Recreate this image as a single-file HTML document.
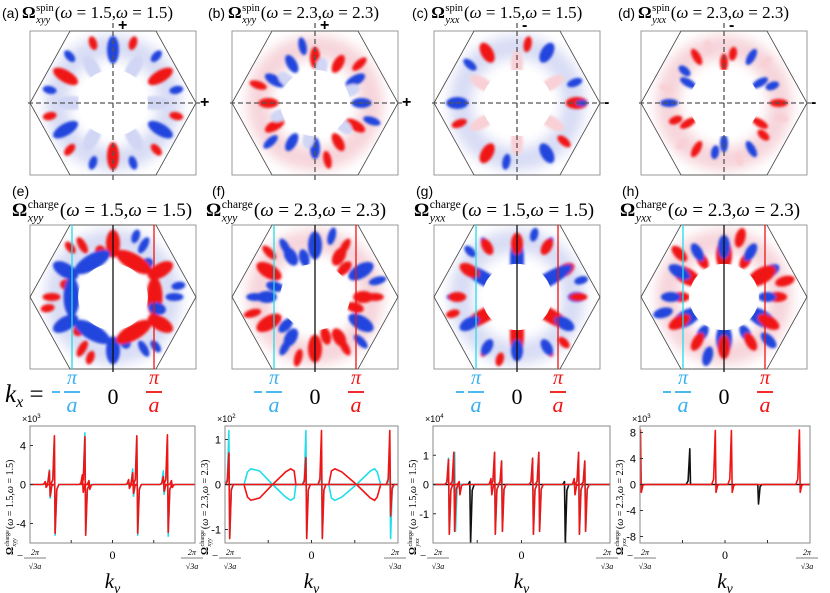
<!DOCTYPE html>
<html><head><meta charset="utf-8"><style>
body{margin:0;background:#fff;}
svg{display:block;font-family:"Liberation Serif",serif;}
</style></head><body>
<svg id="fig" width="830" height="593" viewBox="0 0 830 593" xmlns="http://www.w3.org/2000/svg">
<defs>
<filter id="blur" x="-20%" y="-20%" width="140%" height="140%"><feGaussianBlur stdDeviation="1.4"/></filter>
<filter id="blur2" x="-30%" y="-30%" width="160%" height="160%"><feGaussianBlur stdDeviation="6"/></filter>
</defs>
<g id="heat"></g>
<g id="texts">
<text x="12" y="196" font-size="14" font-family="Liberation Sans">(e)</text>
<text x="212" y="196" font-size="14" font-family="Liberation Sans">(f)</text>
<text x="416" y="196" font-size="14" font-family="Liberation Sans">(g)</text>
<text x="622" y="196" font-size="14" font-family="Liberation Sans">(h)</text>
<text x="5" y="402" font-size="25" font-style="italic">k<tspan font-size="16" dy="5">x</tspan><tspan font-style="normal" dy="-5"> =</tspan></text>
</g>
<g id="titles"></g>
<g id="kx"></g>
<g id="charts"></g>
</svg>
<script>
const NS="http://www.w3.org/2000/svg";
function mk(tag,attrs,parent){const e=document.createElementNS(NS,tag);for(const k in attrs)e.setAttribute(k,attrs[k]);parent.appendChild(e);return e;}
const RED="#f01414",BLUE="#2244dd",CYAN="#22dde8";

// rich label: prefix, bold Omega, sup, sub, rest
function rich(parent,x,y,size,prefix,sup,sub,rest,name){
  const g=mk('g',{},parent);
  
  
  let cx=x;
  if(prefix){const p=mk('text',{x:cx,y:y,'font-size':size*0.82,'font-family':'Liberation Sans'},g);p.textContent=prefix;cx+=p.getComputedTextLength()+3;}
  const o=mk('text',{x:cx,y:y,'font-size':size,'font-weight':'bold'},g);o.textContent='Ω';cx+=o.getComputedTextLength()+0.5;
  const s1=mk('text',{x:cx,y:y-size*0.42,'font-size':size*0.62},g);s1.textContent=sup;
  const s2=mk('text',{x:cx,y:y+size*0.28,'font-size':size*0.62,'font-style':'italic'},g);s2.textContent=sub;
  cx+=Math.max(s1.getComputedTextLength(),s2.getComputedTextLength())+1;
  const r=mk('text',{x:cx,y:y,'font-size':size},g);r.innerHTML=rest;
  return g;
}
const tg=document.getElementById('titles');
const W1='(<tspan font-style="italic">ω</tspan> = 1.5,<tspan font-style="italic">ω</tspan> = 1.5)';
const W2='(<tspan font-style="italic">ω</tspan> = 2.3,<tspan font-style="italic">ω</tspan> = 2.3)';
rich(tg,2,18,17,'(a)','spin','xyy',W1,'title-a');
rich(tg,208,18,17,'(b)','spin','xyy',W2,'title-b');
rich(tg,412,18,17,'(c)','spin','yxx',W1,'title-c');
rich(tg,618,18,17,'(d)','spin','yxx',W2,'title-d');
rich(tg,12,216,19,'','charge','xyy',W1,'title-e');
rich(tg,206,216,19,'','charge','xyy',W2,'title-f');
rich(tg,414,216,19,'','charge','yxx',W1,'title-g');
rich(tg,620,216,19,'','charge','yxx',W2,'title-h');

/* ---------- heatmap panels (approximate textures) ---------- */
const panelX=[30,232,434,641];
const panelY=[31,225];
const PW=166,PH=144;
const panelDefs=[
 {row:0,col:0,mode:"alt",blobs:[[30,0.66,14,6,1],[48,0.78,7,4,0],[12,0.78,7,4,0],[0,0.5,14,7,2]],sign:"+"},
 {row:0,col:1,mode:"alt",blobs:[[30,0.56,11,5,0],[42,0.72,9,4,1],[0,0.56,10,5,0],[20,0.45,10,6,2]],sign:"+"},
 {row:0,col:2,mode:"alt",blobs:[[0,0.72,11,6,1],[20,0.74,8,4,0],[30,0.48,14,6,3],[60,0.78,6,3,1]],sign:"-"},
 {row:0,col:3,mode:"alt",blobs:[[30,0.5,9,4,0],[0,0.66,9,4,1],[20,0.62,7,4,0],[45,0.72,7,4,3]],sign:"-"},
 {row:1,col:0,mode:"lr",blobs:[[0,0.5,8,20,0],[30,0.66,14,7,0],[60,0.74,9,4,1],[10,0.8,7,4,1],[45,0.55,9,6,1]]},
 {row:1,col:1,mode:"lr",blobs:[[30,0.64,14,7,1],[0,0.58,10,6,0],[45,0.5,9,5,0],[15,0.78,9,4,1],[60,0.72,9,4,0]]},
 {row:1,col:2,mode:"tb",blobs:[[90,0.45,26,7,0],[30,0.66,11,6,1],[60,0.74,9,4,0],[0,0.72,9,5,1],[15,0.8,7,4,0]]},
 {row:1,col:3,mode:"tb",blobs:[[90,0.52,16,8,1],[30,0.62,12,6,0],[60,0.52,9,5,1],[0,0.64,10,5,0],[15,0.76,10,5,1]]}
];
const heat=document.getElementById('heat');
panelDefs.forEach((p,i)=>{
  const x0=panelX[p.col],y0=panelY[p.row],cx=x0+PW/2,cy=y0+PH/2;
  const g=mk('g',{},heat);
  
  
  const cid='hex'+i;
  const cp=mk('clipPath',{id:cid},g);
  const hx=[[x0,cy],[x0+40,y0],[x0+PW-40,y0],[x0+PW,cy],[x0+PW-40,y0+PH],[x0+40,y0+PH]].map(q=>q.join(',')).join(' ');
  mk('polygon',{points:hx},cp);
  const inner=mk('g',{'clip-path':'url(#'+cid+')'},g);
  mk('rect',{x:x0,y:y0,width:PW,height:PH,fill:'#fff'},inner);
  mk('circle',{cx:cx,cy:cy,r:PW*0.34,fill:'none',stroke:i%2?'#f6d4da':'#d8dcf4','stroke-width':PW*0.14,filter:'url(#blur2)'},inner);
  const bl=mk('g',{filter:'url(#blur)'},inner);
  for(let k=0;k<6;k++){
    p.blobs.forEach(b=>{
      const ang=(60*k+b[0])*Math.PI/180;
      const r=b[1]*PW/2;
      const bx=cx+r*Math.cos(ang),by=cy-r*Math.sin(ang)*(PH/PW)*1.12;
      let c;
      if(p.mode==="alt") c=((k+b[4])%2===0);
      else if(p.mode==="lr") c=(Math.cos(ang)<0)!==(b[4]===1);
      else c=(Math.sin(ang)>0)!==(b[4]===1);
      if(b[4]>=2){c=b[4]===2;}
      const col=c?(b[4]>=2?'#d0d6f4':BLUE):(b[4]>=2?'#f8d0d5':RED);
      mk('ellipse',{cx:bx,cy:by,rx:b[2],ry:b[3],fill:col,transform:`rotate(${-60*k-b[0]} ${bx} ${by})`},bl);
    });
  }
  mk('ellipse',{cx:cx,cy:cy,rx:PW*0.21,ry:PH*0.23,fill:'#fff'},inner);
  mk('rect',{x:x0,y:y0,width:PW,height:PH,fill:'none',stroke:'#999','stroke-width':1},g);
  mk('polygon',{points:hx,fill:'none',stroke:'#444','stroke-width':0.8},g);
  if(p.row===0){
    mk('line',{x1:cx,y1:y0-8,x2:cx,y2:y0+PH+8,stroke:'#555','stroke-width':1.3,'stroke-dasharray':'5,3'},g);
    mk('line',{x1:x0-2,y1:cy,x2:x0+PW+4,y2:cy,stroke:'#555','stroke-width':1.3,'stroke-dasharray':'5,3'},g);
    const s1=mk('text',{x:cx+5,y:y0-1,'font-size':16,'font-weight':'bold','font-family':'Liberation Sans'},g);s1.textContent=p.sign;
    const s2=mk('text',{x:x0+PW+4,y:cy+4,'font-size':16,'font-weight':'bold','font-family':'Liberation Sans'},g);s2.textContent=p.sign;
  } else {
    mk('line',{x1:x0+42,y1:y0,x2:x0+42,y2:y0+PH,stroke:CYAN,'stroke-width':1.3},g);
    mk('line',{x1:cx,y1:y0,x2:cx,y2:y0+PH+3,stroke:'#111','stroke-width':1.3},g);
    mk('line',{x1:x0+124,y1:y0,x2:x0+124,y2:y0+PH,stroke:RED,'stroke-width':1.3},g);
  }
});

/* ---------- kx labels ---------- */
const kxg=document.getElementById('kx');
panelX.forEach((x0,i)=>{
  const g=mk('g',{},kxg);
  
  
  const cx=x0+42,mx=x0+PW/2,rx=x0+124;
  let t=mk('text',{x:cx,y:384,'font-size':20,'font-style':'italic',fill:'#3ab0ee','text-anchor':'middle'},g);t.textContent='π';
  mk('line',{x1:cx-20,y1:392,x2:cx-12,y2:392,stroke:'#3ab0ee','stroke-width':1.8},g);
  mk('line',{x1:cx-8,y1:392,x2:cx+8,y2:392,stroke:'#3ab0ee','stroke-width':1.8},g);
  t=mk('text',{x:cx,y:412,'font-size':22,'font-style':'italic',fill:'#3ab0ee','text-anchor':'middle'},g);t.textContent='a';
  t=mk('text',{x:mx,y:404,'font-size':22,'text-anchor':'middle'},g);t.textContent='0';
  t=mk('text',{x:rx,y:384,'font-size':20,'font-style':'italic',fill:RED,'text-anchor':'middle'},g);t.textContent='π';
  mk('line',{x1:rx-8,y1:392,x2:rx+8,y2:392,stroke:RED,'stroke-width':1.8},g);
  t=mk('text',{x:rx,y:412,'font-size':22,'font-style':'italic',fill:RED,'text-anchor':'middle'},g);t.textContent='a';
});

/* ---------- line charts data ---------- */
const c1Cyan=[[-0.76,1.5,-1.4],[-0.70,4.6,-5.2],[-0.33,5.3,-4.8],[0.25,1.6,-1.2],[0.30,4.8,-5.2],[0.62,1.4,-1.0],[0.67,4.6,-5.3]];
const c1Red=[[-0.81,0.3,-0.3],[-0.76,1.4,-1.2],[-0.70,5.0,-5.0],[-0.36,1.0,-0.8],[-0.33,4.9,-5.2],[-0.28,0.4,-0.5],[0.20,0.5,-0.4],[0.25,1.2,-0.9],[0.30,5.0,-5.0],[0.62,0.8,-0.7],[0.67,5.1,-4.9],[0.72,0.4,-0.3]];
const c2Cyan=[[-0.95,1.2,-1.2],[-0.06,1.2,-1.2],[0.12,0.6,-1.2],[0.91,0.6,-1.2]];
const c2Red=[[-0.95,0.7,-1.2],[-0.06,0.6,-1.2],[0.12,1.2,-1.2],[0.91,1.2,-0.7]];
const c2RedKy=[-0.93,-0.78,-0.74,-0.70,-0.60,-0.45,-0.30,-0.24,-0.20,-0.18,0.20,0.23,0.27,0.35,0.52,0.68,0.73,0.76,0.80,0.93];
const c2RedVal=[0,0,-0.28,-0.35,-0.3,0,0.28,0.35,0.3,0,0,0.3,0.35,0.28,0,-0.3,-0.35,-0.28,0,0];
const c2CyanVal=c2RedVal.map(v=>-v);
const c3Cyan=[[-0.82,0.9,-1.7],[-0.75,1.1,-1.6],[-0.30,1.1,-1.7],[-0.22,0.8,-1.6],[0.13,0.9,-1.7],[0.20,1.1,-1.6],[0.65,1.1,-1.7],[0.72,0.8,-1.6]];
const c3Red=[[-0.82,0.85,-1.7],[-0.76,1.1,-1.6],[-0.70,0.1,-0.35],[-0.34,0.2,-0.35],[-0.30,1.1,-1.7],[-0.22,0.8,-1.6],[0.13,0.9,-1.7],[0.20,1.1,-1.6],[0.60,0.2,-0.35],[0.65,1.1,-1.7],[0.72,0.8,-1.6]];
const c3Black=[[-0.58,0.1,-2.0],[0.49,0.1,-2.0]];
const c4Red=[[-0.99,8.4,-1.2],[-0.11,8.3,-1.2],[0.08,8.3,-1.2],[0.88,8.4,-1.2]];
const c4Black=[[-0.41,5.5,0],[0.39,0,-3.0]];
const c1Ticks=[4,0,-4],c2Ticks=[1,0,-1],c3Ticks=[1,0,-1],c4Ticks=[8,4,0,-4,-8];

const charts=[
 {x0:30,w:165,ymin:-6,ymax:6,ticks:c1Ticks,exp:'3',series:[[c1Cyan,CYAN],[c1Red,RED]],label:['xyy','1.5'],name:'chart-xyy-1-5'},
 {x0:225,w:173,ymin:-1.3,ymax:1.3,ticks:c2Ticks,exp:'2',series:[[c2Cyan,CYAN],[c2Red,RED]],curves:[[c2RedKy,c2CyanVal,CYAN],[c2RedKy,c2RedVal,RED]],zeroBlack:true,label:['xyy','2.3'],name:'chart-xyy-2-3'},
 {x0:433,w:177,ymin:-2,ymax:2,ticks:c3Ticks,exp:'4',series:[[c3Black,'#111'],[c3Cyan,CYAN],[c3Red,RED]],label:['yxx','1.5'],name:'chart-yxx-1-5'},
 {x0:640,w:170,ymin:-9,ymax:9,ticks:c4Ticks,exp:'3',series:[[c4Black,'#111'],[c4Red,RED]],label:['yxx','2.3'],name:'chart-yxx-2-3'}
];
const CY0=426,CH=117;
const cg=document.getElementById('charts');
charts.forEach(c=>{
  const g=mk('g',{},cg);
  
  
  const X=k=>c.x0+(k+1)/2*c.w;
  const Y=v=>CY0+(c.ymax-v)/(c.ymax-c.ymin)*CH;
  const clip='clip-'+c.name;
  const cp=mk('clipPath',{id:clip},g);mk('rect',{x:c.x0,y:CY0,width:c.w,height:CH},cp);
  const pg=mk('g',{'clip-path':'url(#'+clip+')'},g);
  if(c.zeroBlack){mk('line',{x1:c.x0,y1:Y(0),x2:c.x0+c.w,y2:Y(0),stroke:'#111','stroke-width':1.6},pg);}
  (c.curves||[]).forEach(cv=>{
    let d='';cv[0].forEach((k,i)=>{d+=(i?'L':'M')+X(k).toFixed(1)+','+Y(cv[1][i]).toFixed(1);});
    const p=mk('path',{d:d,fill:'none',stroke:cv[2],'stroke-width':1.6},pg);
    
    
  });
  c.series.forEach(s=>{
    let d='M'+c.x0+','+Y(0);
    s[0].forEach(sp=>{
      const x=X(sp[0]);
      d+='L'+(x-4).toFixed(1)+','+Y(0)+'L'+(x-2).toFixed(1)+','+Y(sp[1]*0.1).toFixed(1)+'L'+(x-0.4).toFixed(1)+','+Y(sp[1]).toFixed(1)+'L'+(x+0.4).toFixed(1)+','+Y(sp[2]).toFixed(1)+'L'+(x+2).toFixed(1)+','+Y(sp[2]*0.1).toFixed(1)+'L'+(x+4).toFixed(1)+','+Y(0);
    });
    d+='L'+(c.x0+c.w)+','+Y(0);
    const p=mk('path',{d:d,fill:'none',stroke:s[1],'stroke-width':1.6,'stroke-linejoin':'round'},pg);
    
    
  });
  mk('rect',{x:c.x0,y:CY0,width:c.w,height:CH,fill:'none',stroke:'#888','stroke-width':1},g);
  c.ticks.forEach(t=>{
    mk('line',{x1:c.x0,y1:Y(t),x2:c.x0+3,y2:Y(t),stroke:'#333'},g);
    const tx=mk('text',{x:c.x0-4,y:Y(t)+4,'font-size':11,'text-anchor':'end','font-family':'Liberation Sans'},g);tx.textContent=t;
  });
  [-0.5,0,0.5].forEach(k=>mk('line',{x1:X(k),y1:CY0+CH,x2:X(k),y2:CY0+CH-3,stroke:'#333'},g));
  let t=mk('text',{x:c.x0-8,y:CY0-4,'font-size':9,'font-family':'Liberation Sans'},g);t.innerHTML='×10<tspan font-size="6" dy="-4">'+c.exp+'</tspan>';
  const fr=(x,neg)=>{
    if(neg){const m=mk('text',{x:x-18,y:559,'font-size':11},g);m.textContent='−';}
    let a=mk('text',{x:x,y:555,'font-size':8,'text-anchor':'middle','font-style':'italic'},g);a.textContent='2π';
    mk('line',{x1:x-11,y1:558,x2:x+11,y2:558,stroke:'#000','stroke-width':0.6},g);
    a=mk('text',{x:x,y:569,'font-size':8,'text-anchor':'middle','font-style':'italic'},g);a.textContent='√3a';
  };
  fr(c.x0+5,true);fr(c.x0+c.w-3,false);
  t=mk('text',{x:X(0),y:559,'font-size':12,'text-anchor':'middle'},g);t.textContent='0';
  t=mk('text',{x:X(0),y:588,'font-size':21,'text-anchor':'middle','font-style':'italic'},g);t.innerHTML='k<tspan font-size="14" dy="5">y</tspan>';
  const rg=mk('g',{transform:`translate(${c.x0-17},${CY0+CH+12}) rotate(-90)`},g);
  rich(rg,0,0,10,'','charge',c.label[0],'(<tspan font-style="italic">ω</tspan> = '+c.label[1]+',<tspan font-style="italic">ω</tspan> = '+c.label[1]+')','y-axis-title');
});
</script>
</body></html>
